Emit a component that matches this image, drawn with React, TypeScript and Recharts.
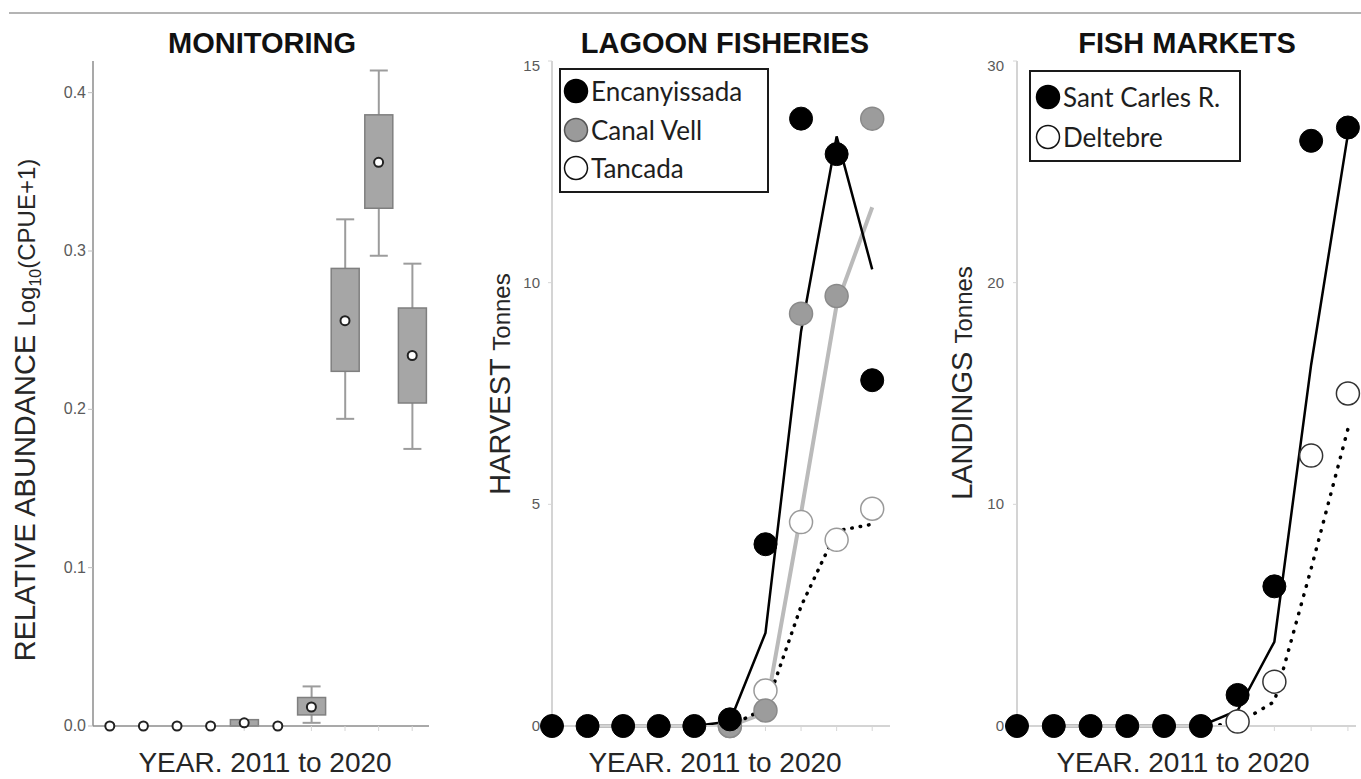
import React from "react";
import { ComposedChart, Bar, Line, XAxis, YAxis, Legend } from "recharts";

const FONT = "'Liberation Sans', Arial, sans-serif";
const LEGEND_FONT = "Lato, 'Open Sans', sans-serif";

const years = [2011, 2012, 2013, 2014, 2015, 2016, 2017, 2018, 2019, 2020];

// MONITORING: box plots of Log10(CPUE+1)
const whiskerLow = [null, null, null, null, null, null, 0.002, 0.194, 0.297, 0.175];
const boxQ1 = [null, null, null, null, 0, null, 0.007, 0.224, 0.327, 0.204];
const boxQ3 = [null, null, null, null, 0.004, null, 0.018, 0.289, 0.386, 0.264];
const whiskerHigh = [null, null, null, null, null, null, 0.025, 0.32, 0.414, 0.292];
const boxMean = [0, 0, 0, 0, 0.002, 0, 0.012, 0.256, 0.356, 0.234];
const monitoringTicks = [0, 0.1, 0.2, 0.3, 0.4];

// LAGOON FISHERIES: harvest, tonnes
const lagoonSites = ["Encanyissada", "Canal Vell", "Tancada"];
const encanyissada = [0, 0, 0, 0, 0, 0.15, 4.1, 13.7, 12.9, 7.8];
const canalVell = [null, null, null, null, null, 0, 0.35, 9.3, 9.7, 13.7];
const tancada = [null, null, null, null, null, 0, 0.8, 4.6, 4.2, 4.9];
const encanyissadaTrend = [null, 0, 0, 0, 0, 0.1, 2.1, 8.9, 13.3, 10.3];
const canalVellTrend = [null, null, null, null, null, 0, 0.3, 4.8, 9.5, 11.7];
const tancadaTrend = [null, null, null, null, null, 0, 0.4, 2.7, 4.4, 4.55];
const lagoonTicks = [0, 5, 10, 15];

// FISH MARKETS: landings, tonnes
const marketSites = ["Sant Carles R.", "Deltebre"];
const santCarles = [0, 0, 0, 0, 0, 0, 1.4, 6.3, 26.4, 27.0];
const deltebre = [null, null, null, null, null, null, 0.2, 2.0, 12.2, 15.0];
const santCarlesTrend = [null, 0, 0, 0, 0, 0, 0.7, 3.8, 16.3, 26.7];
const deltebreTrend = [null, null, null, null, null, 0, 0.1, 1.1, 7.1, 13.4];
const marketTicks = [0, 10, 20, 30];

const monitoringRows = years.map((year, i) => ({
  year,
  whisker: whiskerLow[i] == null ? null : [whiskerLow[i], whiskerHigh[i]],
  box: boxQ1[i] == null ? null : [boxQ1[i], boxQ3[i]],
  mean: boxMean[i],
}));

const lagoonRows = years.map((year, i) => ({
  year,
  enc: encanyissada[i],
  canal: canalVell[i],
  tanc: tancada[i],
  encTrend: encanyissadaTrend[i],
  canalTrend: canalVellTrend[i],
  tancTrend: tancadaTrend[i],
}));

const marketRows = years.map((year, i) => ({
  year,
  scr: santCarles[i],
  del: deltebre[i],
  scrTrend: santCarlesTrend[i],
  delTrend: deltebreTrend[i],
}));

const BoxShape = (p: any) => {
  if (p.y == null || p.height == null) return null;
  const top = Math.min(p.y, p.y + p.height);
  const h = Math.max(Math.abs(p.height), 1);
  return (
    <rect x={p.x} y={top} width={p.width} height={h} fill="#a6a6a6" stroke="#7f7f7f" strokeWidth={1.5} />
  );
};

const WhiskerShape = (p: any) => {
  if (p.y == null || p.height == null) return null;
  const top = Math.min(p.y, p.y + p.height);
  const bottom = Math.max(p.y, p.y + p.height);
  const cx = p.x + p.width / 2;
  return (
    <g stroke="#9c9c9c" strokeWidth={2}>
      <line x1={cx} x2={cx} y1={top} y2={bottom} />
      <line x1={p.x} x2={p.x + p.width} y1={top} y2={top} />
      <line x1={p.x} x2={p.x + p.width} y1={bottom} y2={bottom} />
    </g>
  );
};

const ValueTick = ({ x, y, payload, digits, size, topValue }: any) => (
  <text
    x={x}
    y={y}
    dy={payload.value === topValue ? 10 : 5}
    textAnchor="end"
    fill="#5a5a5a"
    fontSize={size}
    fontFamily={FONT}
  >
    {digits ? payload.value.toFixed(digits) : payload.value}
  </text>
);

const RotatedTitle = ({ px, py, main, unit, sub, rest }: any) => (
  <text
    x={px}
    y={py}
    transform={`rotate(-90 ${px} ${py})`}
    textAnchor="middle"
    fill="#262626"
    fontFamily={FONT}
  >
    <tspan fontSize={29}>{main} </tspan>
    <tspan fontSize={24}>{unit}</tspan>
    {sub ? (
      <tspan fontSize={16} dy={6}>
        {sub}
      </tspan>
    ) : null}
    {rest ? (
      <tspan fontSize={24} dy={-6}>
        {rest}
      </tspan>
    ) : null}
  </text>
);

const YearTitle = ({ px, py }: any) => (
  <text x={px} y={py} textAnchor="middle" fill="#262626" fontSize={28} fontFamily={FONT}>
    YEAR. 2011 to 2020
  </text>
);

const PanelTitle = ({ text, center }: any) => (
  <div
    style={{
      position: "absolute",
      left: center - 200,
      top: 29,
      width: 400,
      textAlign: "center",
      fontFamily: FONT,
      fontWeight: "bold",
      fontSize: 29,
      lineHeight: "29px",
      color: "#111",
    }}
  >
    {text}
  </div>
);

const MarkerLegend = ({ names, markers, rowHeight, width, height, padTop, padLeft }: any) => (
  <div
    style={{
      width,
      height,
      boxSizing: "border-box",
      border: "2px solid #1a1a1a",
      paddingTop: padTop,
      paddingLeft: padLeft,
      background: "#fff",
    }}
  >
    {names.map((name: string, i: number) => (
      <div key={name} style={{ display: "flex", alignItems: "center", height: rowHeight }}>
        <svg width={26} height={26}>
          <circle cx={13} cy={13} r={11.5} fill={markers[i].fill} stroke={markers[i].stroke} strokeWidth={1.5} />
        </svg>
        <span
          style={{
            marginLeft: 2,
            fontFamily: LEGEND_FONT,
            fontSize: 26,
            color: "#1e1e1e",
            lineHeight: "26px",
          }}
        >
          {name}
        </span>
      </div>
    ))}
  </div>
);

function MonitoringChart() {
  const frame = { stroke: "#8c8c8c", strokeWidth: 1.5 };
  return (
    <ComposedChart width={440} height={779} data={monitoringRows} margin={{ top: 61, right: 11, bottom: 43, left: 33 }}>
      <XAxis
        dataKey="year"
        height={10}
        tickFormatter={() => ""}
        tickSize={5}
        tickLine={{ stroke: "#d6d6d6" }}
        axisLine={frame}
        label={<YearTitle px={265} py={772} />}
      />
      <XAxis xAxisId="inner" dataKey="year" hide />
      <XAxis xAxisId="top" dataKey="year" orientation="top" height={0} tick={false} tickLine={false} axisLine={frame} />
      <YAxis
        domain={[0, 0.42]}
        ticks={monitoringTicks}
        width={60}
        tickSize={5}
        tickLine={{ stroke: "#bdbdbd" }}
        axisLine={frame}
        tick={<ValueTick digits={1} size={16} />}
        label={<RotatedTitle px={35} py={410} main="RELATIVE ABUNDANCE" unit="Log" sub="10" rest="(CPUE+1)" />}
      />
      <YAxis yAxisId="right" orientation="right" width={0} domain={[0, 1]} tick={false} tickLine={false} axisLine={frame} />
      <Bar dataKey="whisker" barSize={18} shape={WhiskerShape} isAnimationActive={false} />
      <Bar dataKey="box" xAxisId="inner" barSize={28} shape={BoxShape} isAnimationActive={false} />
      <Line
        dataKey="mean"
        stroke="none"
        dot={{ r: 4.5, fill: "#fff", stroke: "#222", strokeWidth: 2 }}
        activeDot={false}
        isAnimationActive={false}
      />
    </ComposedChart>
  );
}

function LagoonChart() {
  const frame = { stroke: "#d4d4d4", strokeWidth: 2 };
  return (
    <ComposedChart width={460} height={779} data={lagoonRows} margin={{ top: 61, right: 20, bottom: 43, left: 42 }}>
      <XAxis
        type="number"
        dataKey="year"
        domain={[2011, 2020.5]}
        ticks={years}
        height={10}
        tickFormatter={() => ""}
        tickSize={5}
        tickLine={{ stroke: "#d6d6d6" }}
        axisLine={frame}
        label={<YearTitle px={265} py={772} />}
      />
      <XAxis
        xAxisId="top"
        type="number"
        dataKey="year"
        domain={[2011, 2020.5]}
        orientation="top"
        height={0}
        tick={false}
        tickLine={false}
        axisLine={frame}
      />
      <YAxis
        domain={[0, 15]}
        ticks={lagoonTicks}
        width={60}
        tickSize={4}
        tickMargin={8}
        tickLine={{ stroke: "#d6d6d6" }}
        axisLine={frame}
        tick={<ValueTick size={15} topValue={15} />}
        label={<RotatedTitle px={60} py={384} main="HARVEST" unit="Tonnes" />}
      />
      <YAxis yAxisId="right" orientation="right" width={0} domain={[0, 1]} tick={false} tickLine={false} axisLine={frame} />
      <Legend
        layout="horizontal"
        verticalAlign="middle"
        align="center"
        wrapperStyle={{ left: 109, top: 68, width: 210, height: 125 }}
        content={() => (
          <MarkerLegend
            names={lagoonSites}
            markers={[
              { fill: "#000", stroke: "#000" },
              { fill: "#9a9a9a", stroke: "#555" },
              { fill: "#fff", stroke: "#111" },
            ]}
            rowHeight={38.5}
            width={210}
            height={125}
            padTop={2}
            padLeft={2}
          />
        )}
      />
      <Line dataKey="tanc" stroke="none" dot={{ r: 11.5, fill: "#fff", stroke: "#9a9a9a", strokeWidth: 1.5 }} activeDot={false} isAnimationActive={false} />
      <Line dataKey="canal" stroke="none" dot={{ r: 11.5, fill: "#9c9c9c", stroke: "#8a8a8a", strokeWidth: 1.5 }} activeDot={false} isAnimationActive={false} />
      <Line dataKey="enc" stroke="none" dot={{ r: 11.5, fill: "#000", stroke: "#000", strokeWidth: 1 }} activeDot={false} isAnimationActive={false} />
      <Line dataKey="canalTrend" stroke="#bababa" strokeWidth={4} dot={false} activeDot={false} isAnimationActive={false} />
      <Line dataKey="tancTrend" stroke="#000" strokeWidth={3.5} strokeDasharray="0.5 8" strokeLinecap="round" dot={false} activeDot={false} isAnimationActive={false} />
      <Line dataKey="encTrend" stroke="#000" strokeWidth={2.5} dot={false} activeDot={false} isAnimationActive={false} />
    </ComposedChart>
  );
}

function MarketChart() {
  const frame = { stroke: "#d4d4d4", strokeWidth: 2 };
  return (
    <ComposedChart width={451} height={779} data={marketRows} margin={{ top: 61, right: 5, bottom: 43, left: 47 }}>
      <XAxis
        type="number"
        dataKey="year"
        domain={[2011, 2020.22]}
        ticks={years}
        height={10}
        tickFormatter={() => ""}
        tickSize={5}
        tickLine={{ stroke: "#d6d6d6" }}
        axisLine={frame}
        label={<YearTitle px={273} py={772} />}
      />
      <XAxis
        xAxisId="top"
        type="number"
        dataKey="year"
        domain={[2011, 2020.22]}
        orientation="top"
        height={0}
        tick={false}
        tickLine={false}
        axisLine={frame}
      />
      <YAxis
        domain={[0, 30]}
        ticks={marketTicks}
        width={60}
        tickSize={4}
        tickMargin={9}
        tickLine={{ stroke: "#d6d6d6" }}
        axisLine={frame}
        tick={<ValueTick size={15} topValue={30} />}
        label={<RotatedTitle px={62} py={383} main="LANDINGS" unit="Tonnes" />}
      />
      <YAxis yAxisId="right" orientation="right" width={0} domain={[0, 1]} tick={false} tickLine={false} axisLine={frame} />
      <Legend
        layout="horizontal"
        verticalAlign="middle"
        align="center"
        wrapperStyle={{ left: 119, top: 70, width: 212, height: 92 }}
        content={() => (
          <MarkerLegend
            names={marketSites}
            markers={[
              { fill: "#000", stroke: "#000" },
              { fill: "#fff", stroke: "#111" },
            ]}
            rowHeight={40}
            width={212}
            height={92}
            padTop={5}
            padLeft={4}
          />
        )}
      />
      <Line dataKey="del" stroke="none" dot={{ r: 11.5, fill: "#fff", stroke: "#333", strokeWidth: 1.5 }} activeDot={false} isAnimationActive={false} />
      <Line dataKey="scr" stroke="none" dot={{ r: 11.5, fill: "#000", stroke: "#000", strokeWidth: 1 }} activeDot={false} isAnimationActive={false} />
      <Line dataKey="delTrend" stroke="#000" strokeWidth={3.5} strokeDasharray="0.5 9" strokeLinecap="round" dot={false} activeDot={false} isAnimationActive={false} />
      <Line dataKey="scrTrend" stroke="#000" strokeWidth={2.5} dot={false} activeDot={false} isAnimationActive={false} />
    </ComposedChart>
  );
}

export default function App() {
  return (
    <div
      style={{
        position: "absolute",
        left: 0,
        top: 0,
        width: 1361,
        height: 779,
        background: "#fff",
        overflow: "hidden",
      }}
    >
      <div style={{ position: "absolute", left: 9, top: 12, width: 1352, height: 2, background: "#b4b4b4" }} />
      <PanelTitle text="MONITORING" center={262} />
      <PanelTitle text="LAGOON FISHERIES" center={725} />
      <PanelTitle text="FISH MARKETS" center={1187} />
      <div style={{ position: "absolute", left: 0, top: 0 }}>
        <MonitoringChart />
      </div>
      <div style={{ position: "absolute", left: 450, top: 0 }}>
        <LagoonChart />
      </div>
      <div style={{ position: "absolute", left: 910, top: 0 }}>
        <MarketChart />
      </div>
    </div>
  );
}
